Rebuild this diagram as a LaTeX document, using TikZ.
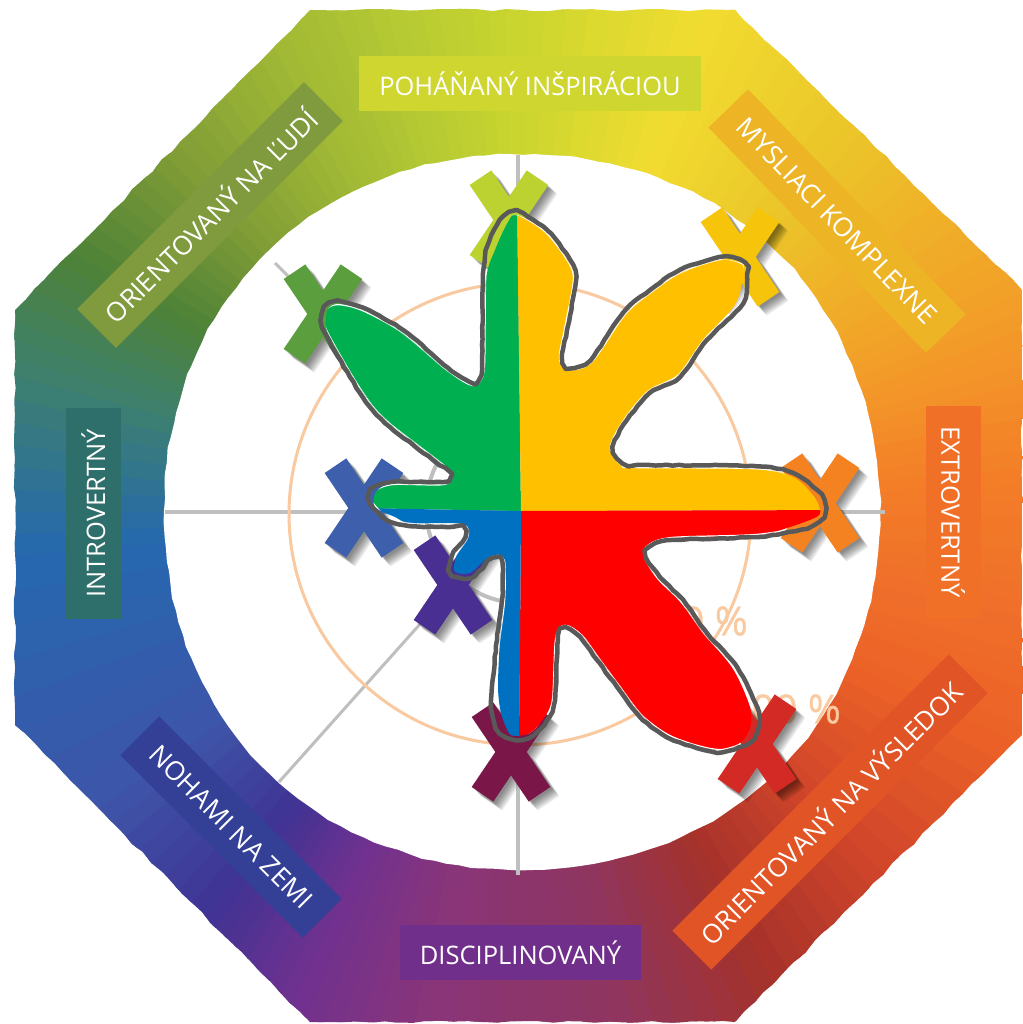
\documentclass[tikz,border=0pt]{standalone}
\usepackage{fontspec}
\setmainfont{Open Sans}
\newfontfamily\pctfont[FakeBold=0.8]{Open Sans}
\usetikzlibrary{decorations.pathmorphing}
\definecolor{r0}{HTML}{CBD62F}\definecolor{r1}{HTML}{F1DC30}\definecolor{r2}{HTML}{EBC62A}
\definecolor{r3}{HTML}{F0B028}\definecolor{r4}{HTML}{F39A28}\definecolor{r5}{HTML}{F37F27}
\definecolor{r6}{HTML}{F0702A}\definecolor{r7}{HTML}{EC6227}\definecolor{r8}{HTML}{D0452A}
\definecolor{r9}{HTML}{A6322A}\definecolor{r10}{HTML}{8E3560}\definecolor{r11}{HTML}{8A3578}
\definecolor{r12}{HTML}{70318F}\definecolor{r13}{HTML}{3F3394}\definecolor{r14}{HTML}{3E55A8}
\definecolor{r15}{HTML}{2568B0}\definecolor{r16}{HTML}{3D8070}\definecolor{r17}{HTML}{4E8237}
\definecolor{r18}{HTML}{7E9B36}\definecolor{r19}{HTML}{9CB535}\definecolor{r20}{HTML}{B5C933}
\definecolor{gridgray}{HTML}{BFBFBF}
\definecolor{peach}{HTML}{F9C9A0}
\definecolor{outlinegray}{HTML}{595959}
\definecolor{qgreen}{HTML}{00B050}\definecolor{qyellow}{HTML}{FFC000}\definecolor{qred}{HTML}{FF0000}\definecolor{qblue}{HTML}{0070C0}
\definecolor{blime}{HTML}{CFD62F}\definecolor{bolive}{HTML}{7F9B3E}\definecolor{bamber}{HTML}{EDB426}
\definecolor{borange}{HTML}{F07028}\definecolor{bred}{HTML}{E05426}\definecolor{bviolet}{HTML}{702F8A}
\definecolor{bnavy}{HTML}{344096}\definecolor{bteal}{HTML}{2F6F6B}
\definecolor{xlime}{HTML}{BCD230}\definecolor{xgreen}{HTML}{5A9E3E}\definecolor{xyellow}{HTML}{F6C40A}
\definecolor{xorange}{HTML}{F58220}\definecolor{xred}{HTML}{D42A26}\definecolor{xmaroon}{HTML}{7A1648}
\definecolor{xpurple}{HTML}{4A2F92}\definecolor{xblue}{HTML}{3E5FAC}
\tikzset{
  banner/.style={inner sep=0pt,text=white,align=center,minimum height=55pt,font=\fontsize{25.5}{30}\selectfont},
  bannerd/.style={banner,font=\fontsize{26.3}{30}\selectfont},
  gridline/.style={draw=gridgray,line width=4pt},
  ringline/.style={draw=peach,line width=3pt},
  pct/.style={text=peach,inner sep=0pt,anchor=east,font=\pctfont\fontsize{40}{48}\selectfont},
  rough/.style={decorate,decoration={random steps,segment length=14pt,amplitude=1.2pt}},
  wobble/.style={decorate,decoration={random steps,segment length=6pt,amplitude=.5pt}}
}
\def\xshape{(0,-23.3) -- (17.7,-49.6) -- (39.3,-35) -- (15.7,0) -- (39.3,35) -- (17.7,49.6) -- (0,23.3) -- (-17.7,49.6) -- (-39.3,35) -- (-15.7,0) -- (-39.3,-35) -- (-17.7,-49.6) -- cycle}
\newcommand\crossmark[3]{%
  \begin{scope}[shift={(#1,#2)}]
    \foreach \d in {2,3,4,5,6,7,8,9}{\fill[black,opacity=.07,shift={(\d,\d)}] \xshape;}
    \fill[#3] \xshape;
  \end{scope}}
\def\shapepath{plot[smooth cycle,tension=.5] coordinates {(517,212) (547,230) (570,260) (576,280) (567,330) (562,357) (568,367) (590,360) (623,313) (650,290) (680,270) (720,257) (740,260) (747,268) (743,303) (707,340) (680,377) (650,393) (627,420) (613,447) (623,463) (637,465) (753,466) (793,473) (817,490) (825,503) (823,517) (807,528) (757,537) (673,540) (650,547) (647,557) (660,577) (683,600) (707,633) (737,667) (757,707) (758,727) (750,742) (723,752) (697,748) (667,737) (640,717) (617,687) (597,660) (580,637) (565,628) (558,640) (555,700) (547,720) (533,735) (517,740) (500,733) (492,713) (492,687) (497,640) (502,600) (502,562) (493,559) (483,568) (470,578) (452,575) (452,557) (465,537) (460,528) (410,526) (387,520) (370,503) (372,490) (392,482) (443,482) (448,473) (433,460) (390,427) (370,407) (350,377) (325,333) (322,320) (325,307) (338,302) (363,308) (403,330) (447,367) (470,382) (478,380) (482,363) (483,280) (487,247) (500,220)}}
\def\fillpath{plot[smooth cycle,tension=.5] coordinates {(517,215) (547,232) (568,262) (574,280) (565,330) (560,359) (568,369) (591,362) (625,315) (652,292) (682,272) (720,260) (738,262) (744,268) (736,303) (705,338) (678,375) (648,391) (625,418) (611,447) (621,465) (637,467) (753,468) (793,477) (812,494) (819,506) (818,516) (790,527) (757,535) (673,538) (648,545) (644,557) (657,579) (680,602) (705,635) (733,669) (750,707) (750,728) (741,742) (723,750) (697,746) (667,735) (642,715) (619,685) (599,658) (582,635) (566,626) (556,640) (552,700) (541,722) (530,733) (517,736) (509,733) (501,713) (498,687) (500,640) (504,600) (505,560) (493,556) (483,562) (470,573) (455,572) (456,557) (468,537) (463,524) (410,523) (395,517) (375,507) (376,492) (392,484) (443,484) (450,473) (435,458) (392,425) (372,405) (352,375) (328,333) (326,320) (328,309) (338,304) (363,310) (401,332) (445,369) (470,384) (480,382) (484,363) (486,280) (495,250) (508,222)}}
\begin{document}
\begin{tikzpicture}[x=1pt,y=-1pt]
\useasboundingbox (0,0) rectangle (1022,1024);
\fill[white] (0,0) rectangle (1022,1024);
% painted ring
\begin{scope}
  \clip[rough]
    (310,10) -- (735,10) -- (1022,290) -- (1022,735) -- (735,1022) -- (310,1022) -- (15,725) -- (15,310) -- cycle;
  \foreach \a/\b/\ca/\cb in {0/20/r0/r1,20/40/r1/r2,40/55/r2/r3,55/70/r3/r4,70/85/r4/r5,85/100/r5/r6,100/115/r6/r7,115/135/r7/r8,135/152/r8/r9,152/170/r9/r10,170/190/r10/r11,190/205/r11/r12,205/218/r12/r13,218/235/r13/r14,235/265/r14/r15,265/285/r15/r16,285/300/r16/r17,300/315/r17/r18,315/330/r18/r19,330/345/r19/r20,345/360/r20/r0}{
    \foreach \k in {0,...,7}{
      \pgfmathsetmacro\anga{\a+(\b-\a)*\k/8}
      \pgfmathsetmacro\angb{\a+(\b-\a)*(\k+1.3)/8}
      \pgfmathsetmacro\pcnt{100*(\k+.5)/8}
      \colorlet{seg}{\cb!\pcnt!\ca}
      \fill[seg] (522,512) -- ({522+900*sin(\anga)},{512-900*cos(\anga)}) -- ({522+900*sin(\angb)},{512-900*cos(\angb)}) -- cycle;
    }
  }
\end{scope}
\fill[white,rough] plot[smooth cycle,domain=0:356,samples=90] ({522+(361-3*cos(4*\x))*cos(\x)},{512+(361-3*cos(4*\x))*sin(\x)});
% chart grid
\draw[gridline] (165,511.5) -- (885,511.5);
\draw[gridline] (517.5,155) -- (517.5,875);
\draw[gridline,line width=3pt] (275,263) -- (521,511);
\draw[gridline,line width=3pt] (279,782) -- (521,511);
\draw[gridline] (521,508) circle[radius=95pt];
\draw[ringline] (520,514) circle[radius=231pt];
\node[pct] (p50) at (748,621) {50 \%};
\node[pct] (p100) at (841,709) {100 \%};
% banners
\node[banner,fill=blime,minimum width=342pt] (b1) at (530,83.5) {POHÁŇANÝ INŠPIRÁCIOU};
\node[bannerd,fill=bamber,minimum width=313pt,rotate=-46] (b2) at (837,221) {MYSLIACI KOMPLEXNE};
\node[banner,fill=borange,minimum width=212pt,rotate=-90] (b3) at (953,512) {EXTROVERTNÝ};
\node[bannerd,fill=bred,minimum width=391pt,rotate=45] (b4) at (830,812) {ORIENTOVANÝ NA VÝSLEDOK};
\node[banner,fill=bviolet,minimum width=241pt] (b5) at (520.5,952.5) {DISCIPLINOVANÝ};
\node[bannerd,fill=bnavy,minimum width=258pt,rotate=-45] (b6) at (231,827) {NOHAMI NA ZEMI};
\node[banner,fill=bteal,minimum width=211pt,rotate=90] (b7) at (93.5,513.5) {INTROVERTNÝ};
\node[bannerd,fill=bolive,minimum width=321pt,rotate=45] (b8) at (210,215) {ORIENTOVANÝ NA ĽUDÍ};
% crosses
\crossmark{509}{220}{xlime}
\crossmark{323}{314}{xgreen}
\crossmark{740}{257}{xyellow}
\crossmark{820}{503}{xorange}
\crossmark{757}{744}{xred}
\crossmark{511}{752}{xmaroon}
\crossmark{453}{585}{xpurple}
\crossmark{364}{508}{xblue}
% profile shape
\begin{scope}
  \clip \fillpath;
  \fill[qgreen] (521,511) -- (517,200) -- (300,200) -- (300,507) -- cycle;
  \fill[qyellow] (521,511) -- (517,200) -- (860,200) -- (860,510) -- cycle;
  \fill[qred] (521,511) -- (860,510) -- (860,770) -- (519,770) -- cycle;
  \fill[qblue] (521,511) -- (519,770) -- (300,770) -- (300,507) -- cycle;
  \draw[white,line width=6.5pt] \shapepath;
\end{scope}
\draw[outlinegray,line width=4.5pt,line join=round,wobble] \shapepath;
\end{tikzpicture}
\end{document}
